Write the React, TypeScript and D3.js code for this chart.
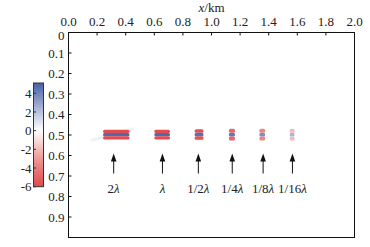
import React from "react";
import * as d3 from "d3";

const xTicks = [0, 0.2, 0.4, 0.6, 0.8, 1.0, 1.2, 1.4, 1.6, 1.8, 2.0];
const yTicks = [0, 0.1, 0.2, 0.3, 0.4, 0.5, 0.6, 0.7, 0.8, 0.9];
const cbTicks = [4, 2, 0, -2, -4, -6];

const labels = ["2λ", "λ", "1/2λ", "1/4λ", "1/8λ", "1/16λ"];
const labelPrefix = ["2", "", "1/2", "1/4", "1/8", "1/16"];
const blobCenters = [0.334, 0.655, 0.913, 1.143, 1.355, 1.564];
const blobWidths = [0.185, 0.11, 0.062, 0.042, 0.04, 0.034];
const blobStripe = [0.016, 0.016, 0.017, 0.019, 0.019, 0.019];
const redValues = [-5.8, -5.8, -5.6, -4.8, -3.6, -2.0];
const blueValues = [4.8, 4.8, 4.6, 4.3, 3.6, 2.4];
const depth = 0.498;
const arrowX = [0.316, 0.657, 0.908, 1.145, 1.361, 1.566];
const arrowTip = 0.59;
const arrowBase = 0.688;
const labelY = 0.782;
const streak: [number, number][] = [
  [0.16, 0.526],
  [0.3, 0.502],
  [0.46, 0.47],
];

const W = 370;
const H = 247;
const m = { l: 68.5, r: 354.5, t: 32.5, b: 237.5 };
const cb = { x: 33.5, w: 10, t: 83, b: 186.7 };

const colorScale = d3
  .scaleLinear<string>()
  .domain([-6, -3, 0, 2.5, 5.1])
  .range(["#e0484a", "#ee9796", "#ffffff", "#a6b0d6", "#4660a8"])
  .interpolate(d3.interpolateRgb);

export default function App() {
  const x = d3.scaleLinear().domain([0, 2]).range([m.l, m.r]);
  const y = d3.scaleLinear().domain([0, 1]).range([m.t, m.b]);
  const cy = d3.scaleLinear().domain([-6, 5.1]).range([cb.b, cb.t]);
  const font = "'Liberation Serif', 'Times New Roman', serif";
  const txt = "#222";
  const fs = 13;

  const gradStops = d3.range(0, 1.0001, 0.05).map((t) => {
    const v = -6 + t * 11.1;
    return { off: t, c: colorScale(v) };
  });

  const line = d3
    .line<[number, number]>()
    .x((d) => x(d[0]))
    .y((d) => y(d[1]))
    .curve(d3.curveBasis);

  return (
    <svg
      width={W}
      height={H}
      style={{ position: "absolute", left: 0, top: 0, background: "#fff" }}
      fontFamily={font}
    >
      <defs>
        <linearGradient id="cbg" x1="0" y1="1" x2="0" y2="0">
          {gradStops.map((s, i) => (
            <stop key={i} offset={s.off} stopColor={s.c} />
          ))}
        </linearGradient>
        <filter id="blur" x="-50%" y="-50%" width="200%" height="200%">
          <feGaussianBlur stdDeviation="0.45" />
        </filter>
        <filter id="blur2" x="-50%" y="-50%" width="200%" height="200%">
          <feGaussianBlur stdDeviation="0.9" />
        </filter>
      </defs>

      {/* x axis title */}
      <text x={x(1)} y={12} textAnchor="middle" fontSize={fs} fill={txt}>
        <tspan fontStyle="italic">x</tspan>/km
      </text>

      {/* streak artifact */}
      <path
        d={line(streak) || ""}
        fill="none"
        stroke="#b8bcdc"
        strokeWidth={1.2}
        opacity={0.6}
        filter="url(#blur2)"
      />

      {/* blobs */}
      {blobCenters.map((c, i) => {
        const w = x(c + blobWidths[i] / 2) - x(c - blobWidths[i] / 2);
        const s = y(blobStripe[i]) - y(0);
        const x0 = x(c) - w / 2;
        const rows = [
          { v: redValues[i], yc: depth - blobStripe[i] },
          { v: blueValues[i], yc: depth },
          { v: redValues[i], yc: depth + blobStripe[i] },
        ];
        return (
          <g key={i} filter="url(#blur)">
            {rows.map((r, j) => (
              <rect
                key={j}
                x={x0}
                y={y(r.yc) - s / 2}
                width={w}
                height={s}
                rx={Math.min(1.5, w / 3)}
                fill={colorScale(r.v)}
              />
            ))}
          </g>
        );
      })}

      {/* frame */}
      <rect
        x={m.l}
        y={m.t}
        width={m.r - m.l}
        height={m.b - m.t}
        fill="none"
        stroke="#111"
        strokeWidth={1}
      />

      {/* x ticks */}
      {xTicks.map((t, i) => (
        <g key={i}>
          <line x1={x(t)} x2={x(t)} y1={m.t} y2={m.t + 3} stroke="#111" />
          <text x={x(t)} y={25.5} textAnchor="middle" fontSize={fs} fill={txt}>
            {t.toFixed(1)}
          </text>
        </g>
      ))}

      {/* y ticks */}
      {yTicks.map((t, i) => (
        <g key={i}>
          <line x1={m.l} x2={m.l + 3} y1={y(t)} y2={y(t)} stroke="#111" />
          <text
            x={m.l - 4}
            y={y(t) + (t === 0 ? 2.5 : 0)}
            dy="0.35em"
            textAnchor="end"
            fontSize={fs}
            fill={txt}
          >
            {t === 0 ? "0" : t.toFixed(1)}
          </text>
        </g>
      ))}

      {/* arrows */}
      {arrowX.map((a, i) => (
        <g key={i}>
          <line
            x1={x(a)}
            x2={x(a)}
            y1={y(arrowBase)}
            y2={y(arrowTip) + 6}
            stroke="#111"
            strokeWidth={1}
          />
          <path
            d={`M${x(a)},${y(arrowTip)} L${x(a) - 2.8},${y(arrowTip) + 8} L${x(a) + 2.8},${y(arrowTip) + 8} Z`}
            fill="#111"
          />
          <text
            x={x(a)}
            y={y(labelY)}
            textAnchor="middle"
            fontSize={fs}
            fill={txt}
            aria-label={labels[i]}
          >
            {labelPrefix[i]}
            <tspan fontStyle="italic">λ</tspan>
          </text>
        </g>
      ))}

      {/* colorbar */}
      <rect
        x={cb.x}
        y={cb.t}
        width={cb.w}
        height={cb.b - cb.t}
        fill="url(#cbg)"
        stroke="#333"
        strokeWidth={1}
      />
      {cbTicks.map((t, i) => (
        <g key={i}>
          <line
            x1={cb.x}
            x2={cb.x + 2.5}
            y1={cy(t)}
            y2={cy(t)}
            stroke="#333"
          />
          <text
            x={cb.x - 2}
            y={cy(t)}
            dy="0.35em"
            textAnchor="end"
            fontSize={fs}
            fill={txt}
          >
            {t}
          </text>
        </g>
      ))}
    </svg>
  );
}
